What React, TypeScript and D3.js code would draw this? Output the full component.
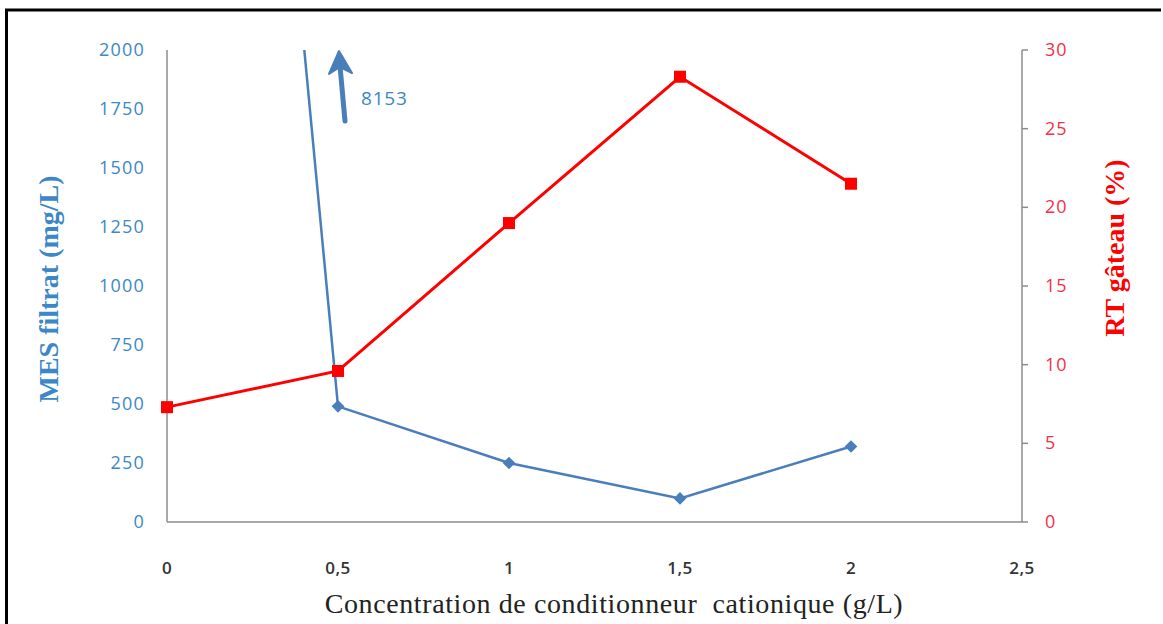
import React from "react";
import * as d3 from "d3";

const concentrations = [0, 0.5, 1, 1.5, 2];
const mesFiltrat = [8153, 490, 250, 100, 320];
const rtGateau = [7.3, 9.6, 19.0, 28.3, 21.5];
const xTicks = [0, 0.5, 1, 1.5, 2, 2.5];
const leftTicks = [0, 250, 500, 750, 1000, 1250, 1500, 1750, 2000];
const rightTicks = [0, 5, 10, 15, 20, 25, 30];
const arrowLabel = "8153";

const BLUE = "#4a7ebb";
const BLUE_TXT = "#3b87c7";
const RED = "#ff0000";
const RED_TXT = "#f2304a";

export default function App() {
  const W = 1163, H = 624;
  const left = 167, right = 1022, top = 50, bottom = 522;
  const x = d3.scaleLinear().domain([0, 2.5]).range([left, right]);
  const yL = d3.scaleLinear().domain([0, 2000]).range([bottom, top]);
  const yR = d3.scaleLinear().domain([0, 30]).range([bottom, top]);
  const fmt = (v: number) => String(v).replace(".", ",");

  const blueLine = d3.line<number>().x((_, i) => x(concentrations[i])).y((d) => yL(d))(mesFiltrat) || "";
  const redLine = d3.line<number>().x((_, i) => x(concentrations[i])).y((d) => yR(d))(rtGateau) || "";

  const diamond = d3.symbol().type(d3.symbolSquare).size(80)() || "";
  const tickFont = "Open Sans, sans-serif";

  return (
    <svg width={W} height={H} style={{ position: "absolute", left: 0, top: 0, background: "#fff" }}>
      <defs>
        <clipPath id="plotClip">
          <rect x={left} y={top} width={right - left} height={bottom - top} />
        </clipPath>
      </defs>
      <rect x={0} y={0} width={W} height={H} fill="#fff" />
      {/* frame */}
      <line x1={5} y1={10} x2={1161} y2={10} stroke="#000" strokeWidth={3} />
      <line x1={6.5} y1={9} x2={6.5} y2={H} stroke="#000" strokeWidth={3} />

      {/* axes */}
      <line x1={left} y1={top} x2={left} y2={bottom} stroke="#8c8c8c" strokeWidth={1.5} />
      <line x1={left} y1={bottom} x2={right} y2={bottom} stroke="#8c8c8c" strokeWidth={1.5} />
      <line x1={right} y1={top} x2={right} y2={bottom} stroke="#8c8c8c" strokeWidth={1.5} />
      {rightTicks.map((t) => (
        <line key={"rt" + t} x1={right} x2={right + 6} y1={yR(t)} y2={yR(t)} stroke="#8c8c8c" strokeWidth={1.5} />
      ))}

      {/* left tick labels */}
      {leftTicks.map((t) => (
        <text key={"l" + t} x={145} y={yL(t) + 6} textAnchor="end" fontFamily={tickFont} fontSize={18} letterSpacing={1.2} fill={BLUE_TXT}>
          {t}
        </text>
      ))}
      {/* right tick labels */}
      {rightTicks.map((t) => (
        <text key={"r" + t} x={1045} y={yR(t) + 6} textAnchor="start" fontFamily={tickFont} fontSize={18} letterSpacing={1} fill={RED_TXT}>
          {t}
        </text>
      ))}
      {/* x tick labels */}
      {xTicks.map((t) => (
        <text key={"x" + t} x={x(t)} y={574} textAnchor="middle" fontFamily={tickFont} fontSize={17} fontWeight={600} letterSpacing={0.5} fill="#333">
          {fmt(t)}
        </text>
      ))}

      {/* axis titles */}
      <text x={614} y={613} textAnchor="middle" fontFamily="Liberation Serif, serif" fontSize={28} letterSpacing={0.6} fill="#222" style={{ whiteSpace: "pre" }}>
        {"Concentration de conditionneur  cationique (g/L)"}
      </text>
      <text transform={`translate(58,289) rotate(-90)`} textAnchor="middle" fontFamily="Liberation Serif, serif" fontWeight="bold" fontSize={28} fill={BLUE_TXT}>
        MES filtrat (mg/L)
      </text>
      <text transform={`translate(1124,248) rotate(-90)`} textAnchor="middle" fontFamily="Liberation Serif, serif" fontWeight="bold" fontSize={28} fill={RED}>
        RT gâteau (%)
      </text>

      {/* series */}
      <g clipPath="url(#plotClip)">
        <path d={blueLine} fill="none" stroke={BLUE} strokeWidth={2.5} />
      </g>
      {mesFiltrat.map((v, i) =>
        v <= 2000 ? (
          <path key={"d" + i} d={diamond} transform={`translate(${x(concentrations[i])},${yL(v)}) rotate(45)`} fill={BLUE} />
        ) : null
      )}
      <path d={redLine} fill="none" stroke={RED} strokeWidth={3} />
      {rtGateau.map((v, i) => (
        <rect key={"s" + i} x={x(concentrations[i]) - 6} y={yR(v) - 6} width={12} height={12} fill={RED} />
      ))}

      {/* arrow annotation */}
      <line x1={345} y1={121} x2={340} y2={66} stroke={BLUE} strokeWidth={5} strokeLinecap="round" />
      <path d="M339,51 L329,74 L340,67 L352,73 Z" fill={BLUE} stroke={BLUE} strokeWidth={2} strokeLinejoin="round" />
      <text x={361} y={105} fontFamily={tickFont} fontSize={19} letterSpacing={0.8} fill={BLUE_TXT}>
        {arrowLabel}
      </text>
    </svg>
  );
}
